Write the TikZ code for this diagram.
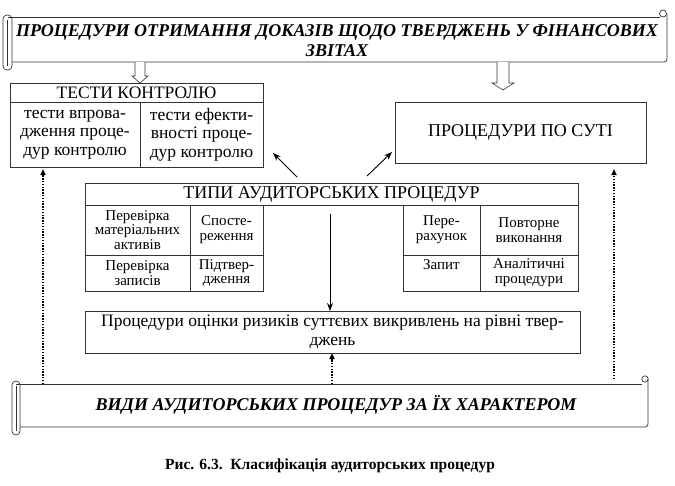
\documentclass[tikz,border=0pt]{standalone}
\usepackage{fontspec}
\setmainfont{Liberation Serif}
\usetikzlibrary{arrows.meta}
\begin{document}
\begin{tikzpicture}[x=1pt,y=-1pt,
  ln/.style={draw=black!80, line width=0.7pt},
  cell/.style={ln, inner sep=0pt, outer sep=0pt, align=center, font=\fontsize{17.5}{18.5}\selectfont},
  bigcell/.style={cell, font=\fontsize{18}{19}\selectfont},
  smallcell/.style={cell, font=\fontsize{15}{14.8}\selectfont},
  conn/.style={black, line width=0.9pt, -{Stealth[length=8pt,width=6pt]}},
  dotconn/.style={black, line width=1.6pt, dash pattern=on 1.4pt off 1.4pt, -{Triangle[length=6pt,width=5pt]}},
  title/.style={font=\fontsize{18}{20}\selectfont\bfseries\itshape, align=center, inner sep=0pt},
  hollow/.style={ln, fill=white, line width=0.6pt}
]
\useasboundingbox (0,0) rectangle (675,485);

% ---------- top scroll ----------
\draw[ln, rounded corners=4pt] (3,15) rectangle (12,70);
\draw[ln] (7.5,20) -- (7.5,66);
\draw[ln] (8,17) -- (660,17);
\draw[ln] (663,13.5) circle (3.5);
\draw[ln, rounded corners=3pt] (667,13.5) -- (667,62) -- (12,62);
\node[title] (top) at (337,41) {ПРОЦЕДУРИ ОТРИМАННЯ ДОКАЗІВ ЩОДО ТВЕРДЖЕНЬ У ФІНАНСОВИХ\\ЗВІТАХ};

% hollow arrows
\draw[hollow] (135,62) -- (135,76) -- (132,76) -- (140,83) -- (148,76) -- (145,76) -- (145,62);
\draw[hollow] (497,62) -- (497,83) -- (492,83) -- (503,90) -- (514,83) -- (509,83) -- (509,62);

% ---------- tests of control ----------
\node[cell, minimum width=253pt, minimum height=19pt] (tkh) at (136.5,92.5) {ТЕСТИ КОНТРОЛЮ};
\node[cell, minimum width=130pt, minimum height=65pt] (tka) at (75,134.5) {тести впрова-\\дження проце-\\дур контролю};
\node[cell, minimum width=123pt, minimum height=65pt] (tkb) at (201.5,134.5) {тести ефекти-\\вності проце-\\дур контролю};

% ---------- substantive ----------
\node[bigcell, minimum width=251pt, minimum height=61pt] (sut) at (520.5,132.5) {ПРОЦЕДУРИ ПО СУТІ};

% ---------- types ----------
\node[bigcell, minimum width=493pt, minimum height=22pt] (typ) at (331.5,194) {ТИПИ АУДИТОРСЬКИХ ПРОЦЕДУР};
\node[smallcell, minimum width=105pt, minimum height=50pt] (l1) at (137.5,230) {Перевірка\\матеріальних\\активів};
\node[smallcell, minimum width=73pt, minimum height=50pt] (l2) at (226.5,230) {Спосте-\\реження};
\node[smallcell, minimum width=105pt, minimum height=36pt] (l3) at (137.5,273) {Перевірка\\записів};
\node[smallcell, minimum width=73pt, minimum height=36pt] (l4) at (226.5,273) {Підтвер-\\дження};
\node[smallcell, minimum width=77pt, minimum height=50pt] (r1) at (441.5,230) {Пере-\\рахунок};
\node[smallcell, minimum width=98pt, minimum height=50pt] (r2) at (529,230) {Повторне\\виконання};
\node[smallcell, minimum width=77pt, minimum height=36pt] (r3) at (441.5,273) {};
\node[font=\fontsize{15}{14.8}\selectfont, anchor=north, inner sep=0pt] (r3t) at (441.5,259) {Запит};
\node[smallcell, minimum width=98pt, minimum height=36pt] (r4) at (529,273) {Аналітичні\\процедури};

% ---------- risk assessment ----------
\node[cell, minimum width=495pt, minimum height=42pt] (risk) at (332.5,332) {Процедури оцінки ризиків суттєвих викривлень на рівні твер-\\джень};

% ---------- bottom scroll ----------
\draw[ln, rounded corners=4pt] (12,381) rectangle (20,435);
\draw[ln] (16,386) -- (16,431);
\draw[ln] (16,384) -- (642,384);
\draw[ln] (645,379) circle (3.2);
\draw[ln, rounded corners=3pt] (648,379) -- (648,427) -- (20,427);
\node[title] (bot) at (336,405) {ВИДИ АУДИТОРСЬКИХ ПРОЦЕДУР ЗА ЇХ ХАРАКТЕРОМ};

% ---------- connectors ----------
\coordinate (a1) at (297,177);
\coordinate (a1e) at (273,153);
\coordinate (a2) at (367,176);
\coordinate (a2e) at (392,152);
\draw[conn] (a1) -- (a1e);
\draw[conn] (a2) -- (a2e);
\coordinate (v1) at (330,214);
\draw[conn] (v1) -- (risk.north -| v1);
\coordinate (dm) at (332,384);
\draw[dotconn] (dm) -- (risk.south -| dm);
\coordinate (dl) at (43,384);
\coordinate (dle) at (43,169);
\coordinate (dr) at (614,379);
\coordinate (dre) at (614,169);
\draw[dotconn] (dl) -- (dle);
\draw[dotconn] (dr) -- (dre);

% ---------- caption ----------
\node[font=\fontsize{15.5}{17}\selectfont\bfseries, inner sep=0pt] (cap) at (330,466) {Рис. 6.3.\ \ Класифікація аудиторських процедур};
\end{tikzpicture}
\end{document}
